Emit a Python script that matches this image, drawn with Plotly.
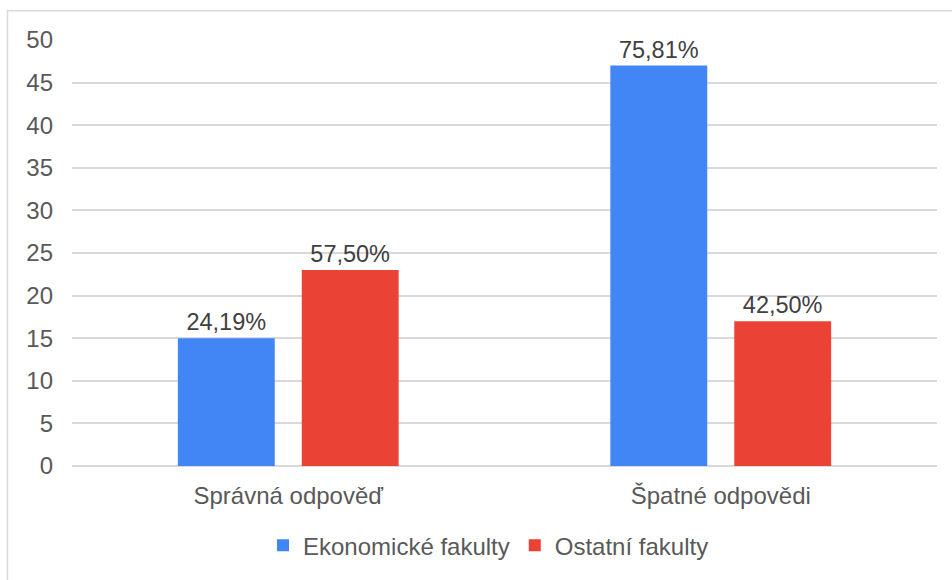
import plotly.graph_objects as go

# Answer categories and respondent counts per group
categories = ["Správná odpověď", "Špatné odpovědi"]
ekonomicke = [15, 47]
ostatni = [23, 17]
series_names = ["Ekonomické fakulty", "Ostatní fakulty"]
y_ticks = [0, 5, 10, 15, 20, 25, 30, 35, 40, 45, 50]

BLUE = "#4285f4"
RED = "#ea4335"
FONT = "Liberation Sans, Arial, sans-serif"


def pct_labels(values):
    total = sum(values)
    return [f"{v / total * 100:.2f}%".replace(".", ",") for v in values]


fig = go.Figure()
for name, vals, color in [(series_names[0], ekonomicke, BLUE),
                          (series_names[1], ostatni, RED)]:
    fig.add_trace(go.Bar(
        name=name,
        x=categories,
        y=vals,
        marker=dict(color=color, line=dict(width=0)),
        text=pct_labels(vals),
        textposition="outside",
        textfont=dict(family=FONT, size=23.5, color="#404040"),
        cliponaxis=False,
    ))

W, H = 952, 580
ml, mr, mt, mb = 72, 15, 40, 112
pw, ph = W - ml - mr, H - mt - mb

fig.update_layout(
    width=W, height=H,
    margin=dict(l=ml, r=mr, t=mt, b=mb),
    paper_bgcolor="white",
    plot_bgcolor="white",
    barmode="group",
    bargap=0.427,
    bargroupgap=0.218,
    font=dict(family=FONT, size=24, color="#595959"),
    showlegend=True,
    legend=dict(
        orientation="h",
        x=0.5 - 16 / pw, xanchor="center",
        y=(468 - 548) / ph, yanchor="middle",
        font=dict(family=FONT, size=24, color="#595959"),
        itemwidth=30,
        traceorder="normal",
    ),
    xaxis=dict(
        showgrid=False,
        showline=False,
        ticks="",
        ticklabelstandoff=13,
        tickfont=dict(family=FONT, size=24, color="#595959"),
    ),
    yaxis=dict(
        range=[0, 50],
        tickvals=y_ticks,
        showgrid=True,
        gridcolor="#d9d9d9",
        gridwidth=1.5,
        zeroline=True,
        zerolinecolor="#d9d9d9",
        zerolinewidth=1.5,
        showline=False,
        ticks="",
        ticklabelstandoff=18,
        tickfont=dict(family=FONT, size=24, color="#595959"),
    ),
)

# Light frame around the chart area
fig.add_shape(
    type="rect", xref="paper", yref="paper",
    x0=(7.5 - ml) / pw, x1=(W + 5 - ml) / pw,
    y0=-(H + 5 - (H - mb)) / ph, y1=1 + (mt - 10.5) / ph,
    line=dict(color="#dadada", width=1.5),
    fillcolor="rgba(0,0,0,0)",
    layer="below",
)

fig.write_html("out.html")
